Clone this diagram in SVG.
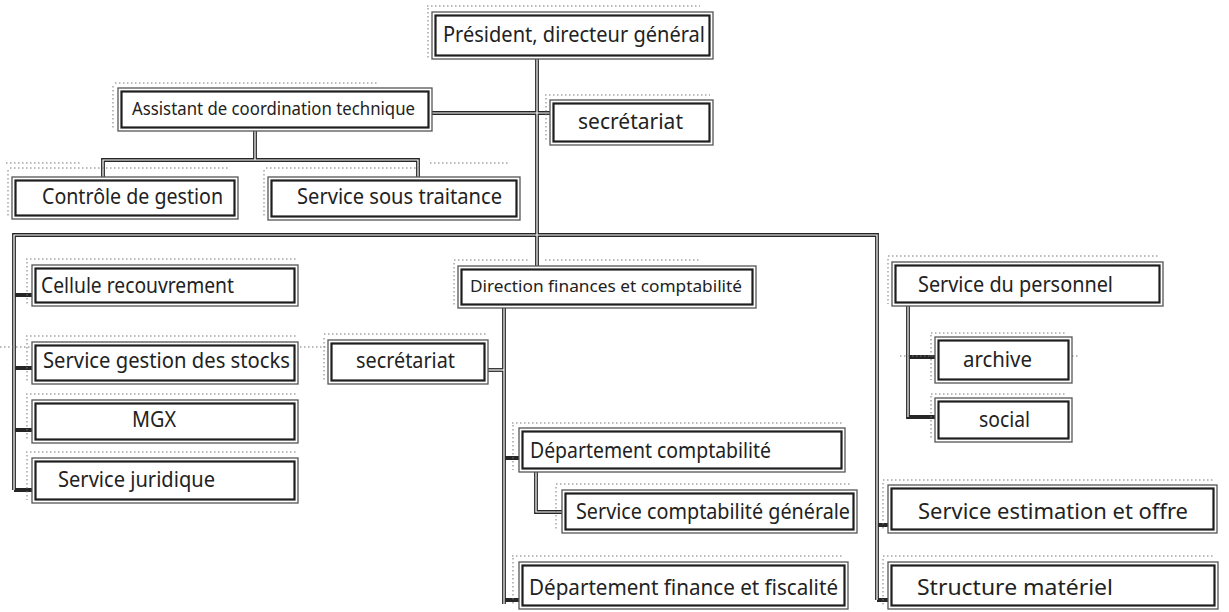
<svg xmlns="http://www.w3.org/2000/svg" width="1229" height="612" viewBox="0 0 1229 612">
<style>
.o{fill:#fff;stroke:#555;stroke-width:1.3}
.i{fill:none;stroke:#1e1e1e;stroke-width:2.2}
.d{fill:none;stroke:#777;stroke-width:1;stroke-dasharray:1.5 2.5}
.t{font-family:"Noto Sans","DejaVu Sans",sans-serif;fill:#222}
.cw{fill:none;stroke:#262626;stroke-width:3.8}
.cc{fill:none;stroke:#fff;stroke-width:1.2}
</style>
<rect width="1229" height="612" fill="#fff"/>
<g id="connectors">
  <g class="cw">
    <path id="p-main" d="M537,59 V266"/>
    <path d="M432,113 H550"/>
    <path d="M255,131 V160 M103,177 V160 H418 V177"/>
    <path d="M14,490 V235 H877 V600"/>
    <path d="M14,295 H32 M14,368 H32 M14,430 H32 M14,490 H32"/>
    <path d="M488,370 H504"/>
    <path d="M504,308 V604"/>
    <path d="M504,458 H519 M504,600 H519"/>
    <path d="M536,472 V512 H562"/>
    <path d="M877,525 H888 M877,600 H888"/>
    <path d="M908,306 V417 H935 M908,357 H935"/>
  </g>
  <g class="cc">
    <path d="M537,59 V266"/>
    <path d="M432,113 H550"/>
    <path d="M255,131 V160 M103,177 V160 H418 V177"/>
    <path d="M14,490 V235 H877 V600"/>
    <path d="M488,370 H504"/>
    <path d="M504,308 V604"/>
    <path d="M536,472 V512 H562"/>
    <path d="M908,306 V417"/>
  </g>
  <path class="d" d="M0,347 H328"/>
  <path class="d" d="M900,356 H1078"/>
</g>

<g id="president">
  <path class="d" d="M427,6 H700 M428,8 V58"/>
  <rect class="o" x="432" y="12" width="281" height="47"/>
  <rect class="i" x="435.5" y="15.5" width="274" height="40"/>
  <text class="t" x="443" y="42" font-size="21" textLength="262" lengthAdjust="spacingAndGlyphs">Président, directeur général</text>
</g>
<g id="assistant">
  <path class="d" d="M115,83 H377 M113,86 V130"/>
  <rect class="o" x="118" y="88" width="314" height="43"/>
  <rect class="i" x="121.5" y="91.5" width="307" height="36"/>
  <text class="t" x="132" y="115" font-size="18" textLength="283" lengthAdjust="spacingAndGlyphs">Assistant de coordination technique</text>
</g>
<g id="secretariat-1">
  <path class="d" d="M545,95 H710 M546,98 V142"/>
  <rect class="o" x="550" y="100" width="163" height="45"/>
  <rect class="i" x="553.5" y="103.5" width="156" height="38"/>
  <text class="t" x="578" y="129" font-size="21" textLength="105" lengthAdjust="spacingAndGlyphs">secrétariat</text>
</g>
<g id="controle">
  <path class="d" d="M6,163 H80 M10,168 H230 M8,170 V216"/>
  <rect class="o" x="12" y="177" width="226" height="42"/>
  <rect class="i" x="15.5" y="180.5" width="219" height="35"/>
  <text class="t" x="42" y="204" font-size="21" textLength="181" lengthAdjust="spacingAndGlyphs">Contrôle de gestion</text>
</g>
<g id="sous-traitance">
  <path class="d" d="M266,168 H420 M430,163 H510 M264,170 V216"/>
  <rect class="o" x="268" y="177" width="252" height="43"/>
  <rect class="i" x="271.5" y="180.5" width="245" height="36"/>
  <text class="t" x="297" y="204" font-size="21" textLength="205" lengthAdjust="spacingAndGlyphs">Service sous traitance</text>
</g>
<g id="cellule">
  <path class="d" d="M26,259 H296 M27,262 V304"/>
  <rect class="o" x="32" y="265" width="266" height="41"/>
  <rect class="i" x="35.5" y="268.5" width="259" height="34"/>
  <text class="t" x="41" y="293" font-size="21" textLength="193" lengthAdjust="spacingAndGlyphs">Cellule recouvrement</text>
</g>
<g id="stocks">
  <path class="d" d="M26,336 H296 M27,339 V382"/>
  <rect class="o" x="32" y="342" width="266" height="42"/>
  <rect class="i" x="35.5" y="345.5" width="259" height="35"/>
  <text class="t" x="43" y="368" font-size="21" textLength="247" lengthAdjust="spacingAndGlyphs">Service gestion des stocks</text>
</g>
<g id="mgx">
  <path class="d" d="M26,394 H296 M27,397 V440"/>
  <rect class="o" x="32" y="400" width="266" height="43"/>
  <rect class="i" x="35.5" y="403.5" width="259" height="36"/>
  <text class="t" x="132" y="427" font-size="21" textLength="44" lengthAdjust="spacingAndGlyphs">MGX</text>
</g>
<g id="juridique">
  <path class="d" d="M26,452 H296 M27,455 V500"/>
  <rect class="o" x="32" y="458" width="266" height="45"/>
  <rect class="i" x="35.5" y="461.5" width="259" height="38"/>
  <text class="t" x="58" y="487" font-size="21" textLength="157" lengthAdjust="spacingAndGlyphs">Service juridique</text>
</g>
<g id="secretariat-2">
  <path class="d" d="M324,334 H486 M324,338 V382"/>
  <rect class="o" x="328" y="340" width="160" height="44"/>
  <rect class="i" x="331.5" y="343.5" width="153" height="37"/>
  <text class="t" x="356" y="368" font-size="21" textLength="99" lengthAdjust="spacingAndGlyphs">secrétariat</text>
</g>
<g id="direction-finances">
  <path class="d" d="M454,260 H530 M545,260 H700 M454,263 V306"/>
  <rect class="o" x="458" y="266" width="298" height="42"/>
  <rect class="i" x="461.5" y="269.5" width="291" height="35"/>
  <text class="t" x="470" y="292" font-size="16" textLength="272" lengthAdjust="spacingAndGlyphs">Direction finances et comptabilité</text>
</g>
<g id="personnel">
  <path class="d" d="M888,256 H1160 M888,259 V304"/>
  <rect class="o" x="892" y="262" width="271" height="44"/>
  <rect class="i" x="895.5" y="265.5" width="264" height="37"/>
  <text class="t" x="918" y="292" font-size="21" textLength="195" lengthAdjust="spacingAndGlyphs">Service du personnel</text>
</g>
<g id="archive">
  <path class="d" d="M931,333 H1067 M931,335 V380"/>
  <rect class="o" x="935" y="337" width="137" height="46"/>
  <rect class="i" x="938.5" y="340.5" width="130" height="39"/>
  <text class="t" x="963" y="367" font-size="21" textLength="69" lengthAdjust="spacingAndGlyphs">archive</text>
</g>
<g id="social">
  <path class="d" d="M931,394 H1067 M931,396 V440"/>
  <rect class="o" x="935" y="398" width="137" height="44"/>
  <rect class="i" x="938.5" y="401.5" width="130" height="37"/>
  <text class="t" x="979" y="427" font-size="21" textLength="51" lengthAdjust="spacingAndGlyphs">social</text>
</g>
<g id="dept-comptabilite">
  <path class="d" d="M512,423 H843 M513,425 V470"/>
  <rect class="o" x="519" y="428" width="326" height="44"/>
  <rect class="i" x="522.5" y="431.5" width="319" height="37"/>
  <text class="t" x="530" y="458" font-size="21" textLength="241" lengthAdjust="spacingAndGlyphs">Département comptabilité</text>
</g>
<g id="service-comptabilite">
  <path class="d" d="M556,484 H852 M556,487 V530"/>
  <rect class="o" x="562" y="490" width="295" height="43"/>
  <rect class="i" x="565.5" y="493.5" width="288" height="36"/>
  <text class="t" x="576" y="519" font-size="21" textLength="274" lengthAdjust="spacingAndGlyphs">Service comptabilité générale</text>
</g>
<g id="dept-finance">
  <path class="d" d="M512,556 H843 M513,558 V606"/>
  <rect class="o" x="519" y="562" width="329" height="47"/>
  <rect class="i" x="522.5" y="565.5" width="322" height="40"/>
  <text class="t" x="529" y="595" font-size="21" textLength="309" lengthAdjust="spacingAndGlyphs">Département finance et fiscalité</text>
</g>
<g id="estimation">
  <path class="d" d="M883,480 H1215 M883,483 V530"/>
  <rect class="o" x="888" y="485" width="329" height="48"/>
  <rect class="i" x="891.5" y="488.5" width="322" height="41"/>
  <text class="t" x="918" y="519" font-size="21" textLength="270" lengthAdjust="spacingAndGlyphs">Service estimation et offre</text>
</g>
<g id="structure">
  <path class="d" d="M883,556 H1215 M883,559 V606"/>
  <rect class="o" x="888" y="562" width="330" height="47"/>
  <rect class="i" x="891.5" y="565.5" width="323" height="40"/>
  <text class="t" x="917" y="595" font-size="21" textLength="196" lengthAdjust="spacingAndGlyphs">Structure matériel</text>
</g>
</svg>
